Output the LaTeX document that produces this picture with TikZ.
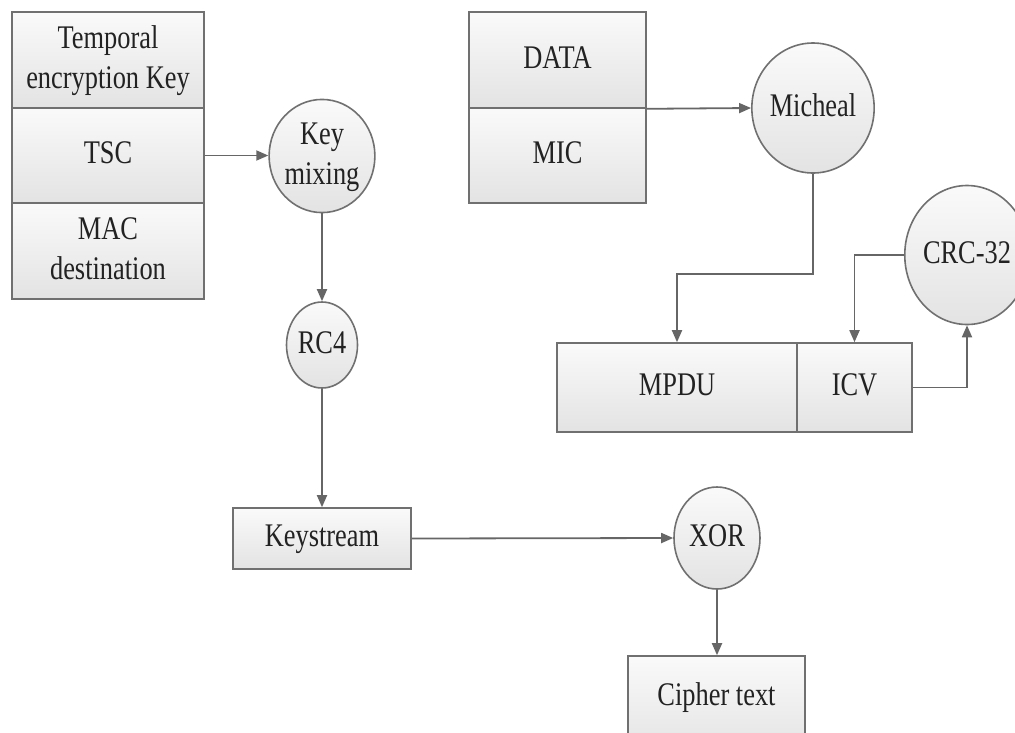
\documentclass[tikz,border=0pt]{standalone}
\usepackage{fontspec}
\setmainfont{Liberation Serif}
\usetikzlibrary{arrows.meta,shapes.geometric}
\definecolor{edge}{HTML}{707070}
\definecolor{wire}{HTML}{666666}
\definecolor{ink}{HTML}{222222}
\newcommand\lbl[1]{\scalebox{0.8}[1]{\begin{tabular}{@{}c@{}}#1\end{tabular}}}
\tikzset{
  base/.style={draw=edge, line width=1.6pt, inner sep=0pt, text=ink,
    font=\fontsize{33}{40}\selectfont, top color=white!98!black, bottom color=black!11},
  boxn/.style={base, rectangle},
  oval/.style={base, ellipse},
  arr/.style={draw=wire, line width=1.8pt, -{Triangle[length=12pt,width=10pt]}},
}
\begin{document}
\begin{tikzpicture}[x=1pt,y=-1pt]
\useasboundingbox (0,0) rectangle (1015,732);
\clip (0,0) rectangle (1015,732);
% left stack
\node[boxn, minimum width=192, minimum height=96] (tek) at (108,60) {\lbl{Temporal\\encryption Key}};
\node[boxn, minimum width=192, minimum height=95] (tsc) at (108,155.5) {\lbl{TSC}};
\node[boxn, minimum width=192, minimum height=96] (mac) at (108,251) {\lbl{MAC\\destination}};
% key mixing chain
\node[oval, minimum width=88, minimum height=108] (kmix) at (322,156) {\lbl{Key\\mixing}};
\node[oval, minimum width=71, minimum height=86] (rc4) at (322,345) {\lbl{RC4}};
\node[boxn, minimum width=178, minimum height=61] (ks) at (322,538.5) {\lbl{Keystream}};
\node[oval, minimum width=86, minimum height=102] (xor) at (717,538) {\lbl{XOR}};
\node[boxn, minimum width=177, minimum height=100] (ct) at (716.5,706) {};
\node[text=ink, font=\fontsize{33}{40}\selectfont, inner sep=0pt] (ctl) at (716.5,697) {\lbl{Cipher text}};
% right part
\node[boxn, minimum width=177, minimum height=96] (data) at (557.5,60) {\lbl{DATA}};
\node[boxn, minimum width=177, minimum height=95] (mic) at (557.5,155.5) {\lbl{MIC}};
\node[oval, minimum width=108, minimum height=130] (mich) at (813,108) {\lbl{Micheal}};
\node[boxn, minimum width=240, minimum height=89] (mpdu) at (677,387.5) {\lbl{MPDU}};
\node[boxn, minimum width=115, minimum height=89] (icv) at (854.5,387.5) {\lbl{ICV}};
\node[oval, minimum width=110, minimum height=139] (crc) at (967,255) {\lbl{CRC-32}};
% connectors
\draw[arr] (tsc.east) -- (kmix.west |- tsc.east);
\draw[arr] (kmix.south) -- (rc4.north);
\draw[arr] (rc4.south) -- (ks.north);
\draw[arr] (ks.east) -- (xor.west);
\draw[arr] (xor.south) -- (ct.north -| xor.south);
\draw[arr] (data.south east) -- (mich.west);
\draw[arr] (mich.south) -- ++(0,100) -| (mpdu.north);
\draw[arr] (crc.west) -| (icv.north);
\draw[arr] (icv.east) -| (crc.south);
\end{tikzpicture}
\end{document}
